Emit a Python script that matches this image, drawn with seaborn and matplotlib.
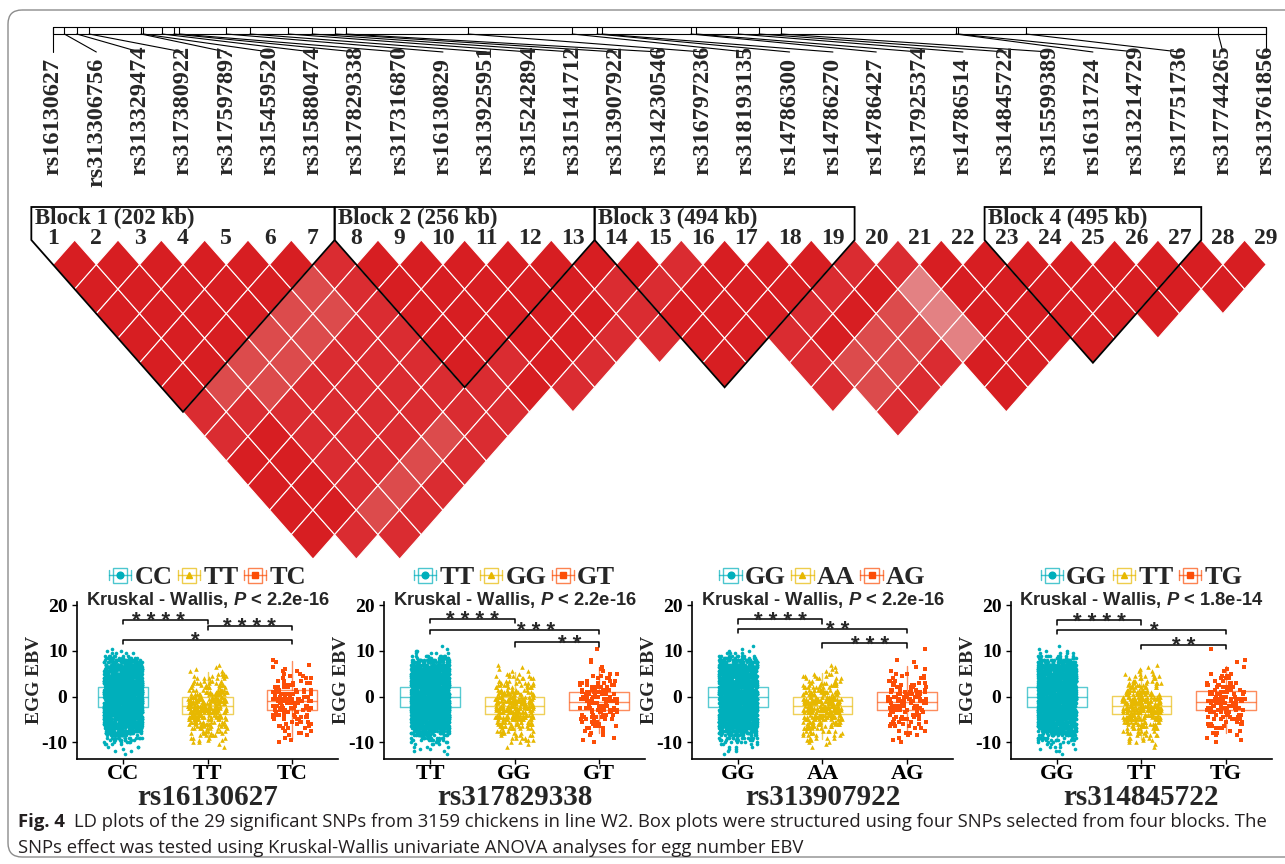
import numpy as np
import pandas as pd
import matplotlib
matplotlib.use("Agg")
import matplotlib.pyplot as plt
import seaborn as sns
from matplotlib.collections import PolyCollection
from matplotlib.patches import Polygon, Rectangle, FancyBboxPatch
from matplotlib.lines import Line2D
from matplotlib.legend_handler import HandlerBase

# ---------------- LD plot data ----------------
snp_ids = ["rs16130627", "rs313306756", "rs313329474", "rs317380922", "rs317597897",
           "rs315459520", "rs315880474", "rs317829338", "rs317316870", "rs16130829",
           "rs313925951", "rs315242894", "rs315141712", "rs313907922", "rs314230546",
           "rs316797236", "rs318193135", "rs14786300", "rs14786270", "rs14786427",
           "rs317925374", "rs14786514", "rs314845722", "rs315599389", "rs16131724",
           "rs313214729", "rs317751736", "rs317744265", "rs313761856"]
# physical position of each SNP (kb from the first one)
snp_pos_kb = [0, 21, 44, 67, 163, 167, 202, 224, 234, 321, 365, 436, 480, 523, 543,
              769, 962, 1008, 1017, 1182, 1192, 1269, 1308, 1349, 1673, 1677, 1803, 2159, 2248]

# one string per SNP i: LD class of the pairs (i, i+1), (i, i+2), ... shown in the plot
ld_rows = [
    "000000110000",
    "000002100001",
    "000022111121",
    "00022111121",
    "0022111121",
    "022111121",
    "11111111",
    "0000011",
    "000010",
    "000001",
    "00001",
    "0001",
    "0111",
    "01000",
    "1000",
    "000111",
    "0010221",
    "010221",
    "10221",
    "133300",
    "00000",
    "0000",
    "0000",
    "000",
    "000",
    "00",
    "00",
    "0",
]
ld_colors = {"0": "#D71E22", "1": "#DA2C31", "2": "#DC4B4C", "3": "#E38183"}
blocks = [(1, 7, "Block 1 (202 kb)"), (8, 13, "Block 2 (256 kb)"),
          (14, 19, "Block 3 (494 kb)"), (23, 27, "Block 4 (495 kb)")]

# ---------------- box plot data ----------------
panel_snps = ["rs16130627", "rs317829338", "rs313907922", "rs314845722"]
panel_genos = [["CC", "TT", "TC"], ["TT", "GG", "GT"], ["GG", "AA", "AG"], ["GG", "TT", "TG"]]
panel_pvals = ["2.2e-16", "2.2e-16", "2.2e-16", "1.8e-14"]
box_q1 = [[-2.3, -3.8, -3.0], [-2.4, -3.8, -2.9], [-2.4, -3.8, -2.9], [-2.4, -3.8, -2.9]]
box_med = [[-0.1, -2.0, -0.9], [-0.15, -2.0, -1.1], [-0.2, -2.1, -1.1], [-0.2, -2.1, -1.1]]
box_q3 = [[2.2, -0.1, 1.4], [2.0, -0.15, 0.95], [2.0, -0.2, 1.0], [2.0, 0.2, 1.2]]
whis_lo = [[-9.0, -9.2, -9.4], [-9.0, -9.3, -8.0], [-9.0, -9.3, -8.0], [-9.0, -9.3, -8.0]]
whis_hi = [[8.9, 5.4, 7.8], [8.6, 5.3, 6.5], [8.6, 5.2, 6.6], [8.6, 6.0, 6.8]]

ebv_levels = [-12.5, -12.0, -11.5, -11.0, -10.5, -10.0, -9.5, -9.0, -8.5, -8.0,
              -7.5, -7.0, -6.5, -6.0, -5.5, -5.0, -4.5, -4.0, -3.5, -3.0,
              -2.5, -2.0, -1.5, -1.0, -0.5, 0.0, 0.5, 1.0, 1.5, 2.0,
              2.5, 3.0, 3.5, 4.0, 4.5, 5.0, 5.5, 6.0, 6.5, 7.0,
              7.5, 8.0, 8.5, 9.0, 9.5, 10.0, 10.5, 11.0]
major_p1 = [1, 2, 1, 3, 4, 6, 9, 12, 18, 27, 36, 45, 52, 58, 62, 65, 68, 70, 70, 70,
            70, 70, 70, 70, 70, 70, 70, 70, 70, 70, 69, 68, 66, 64, 62, 58, 55, 52, 46, 40,
            30, 21, 13, 7, 4, 2, 1, 0]
major_p234 = [1, 2, 2, 3, 4, 6, 9, 12, 18, 27, 36, 45, 52, 58, 62, 65, 68, 70, 70, 70,
              70, 70, 70, 70, 70, 70, 70, 70, 70, 70, 69, 68, 66, 64, 62, 58, 55, 52, 46, 40,
              30, 21, 13, 9, 4, 2, 1, 1]
homo_minor = [0, 0, 0, 1, 1, 2, 3, 4, 5, 5, 6, 8, 9, 10, 12, 14, 16, 17, 18, 19,
              19, 19, 18, 17, 16, 14, 13, 11, 9, 8, 7, 6, 5, 5, 4, 3, 2, 1, 1, 1,
              0, 0, 0, 0, 0, 0, 0, 0]
hetero_p1 = [0, 0, 0, 0, 0, 1, 1, 1, 2, 2, 2, 3, 3, 4, 4, 5, 5, 6, 6, 7,
             7, 8, 8, 8, 8, 7, 7, 6, 6, 5, 4, 4, 3, 3, 2, 2, 2, 1, 1, 1,
             1, 1, 0, 0, 0, 0, 0, 0]
hetero_p234 = [0, 0, 0, 0, 0, 1, 1, 1, 2, 2, 2, 3, 3, 4, 4, 5, 5, 6, 6, 7,
               7, 8, 8, 8, 8, 7, 7, 6, 6, 5, 4, 4, 3, 3, 2, 2, 1, 1, 1, 0,
               1, 1, 0, 0, 0, 0, 1, 0]
point_counts = [[major_p1, homo_minor, hetero_p1],
                [major_p234, homo_minor, hetero_p234],
                [major_p234, homo_minor, hetero_p234],
                [major_p234, homo_minor, hetero_p234]]
# (group a, group b, bracket height, label, label shift along x)
brackets = [
    [(0, 1, 16.8, "* * * *", -0.08), (1, 2, 15.5, "* * * *", 0.0), (0, 2, 12.5, "*", -0.15)],
    [(0, 1, 17.1, "* * * *", 0.0), (0, 2, 14.7, "* * *", 0.25), (1, 2, 11.9, "* *", 0.15)],
    [(0, 1, 17.0, "* * * *", 0.0), (0, 2, 14.9, "* *", 0.18), (1, 2, 11.7, "* * *", 0.06)],
    [(0, 1, 16.7, "* * * *", 0.0), (0, 2, 14.7, "*", 0.15), (1, 2, 11.4, "* *", 0.0)],
]

caption_1 = ("LD plots of the 29 significant SNPs from 3159 chickens in line W2. Box plots were "
             "structured using four SNPs selected from four blocks. The")
caption_2 = "SNPs effect was tested using Kruskal-Wallis univariate ANOVA analyses for egg number EBV"

# ---------------- style ----------------
sns.set_theme(style="ticks")
plt.rcParams["font.family"] = ["Liberation Serif", "DejaVu Serif"]
plt.rcParams["font.weight"] = "bold"
plt.rcParams["mathtext.fontset"] = "custom"
plt.rcParams["mathtext.it"] = "Liberation Sans:italic:bold"
plt.rcParams["mathtext.rm"] = "Liberation Sans:bold"

W, H = 1285, 864
fig = plt.figure(figsize=(W / 100, H / 100), dpi=100)

# frame + caption axes in pixel units
frame_ax = fig.add_axes([0, 0, 1, 1])
frame_ax.set_xlim(0, W)
frame_ax.set_ylim(H, 0)
frame_ax.axis("off")
frame_ax.add_patch(FancyBboxPatch((8, 10), 1320, 847, boxstyle="round,pad=0,rounding_size=14",
                                  fill=False, ec="#8c8c8c", lw=1.0))

# ---------------- LD plot ----------------
X0, DX = 53.0, 43.33   # px of SNP 1, px per SNP
Y0, DY = 240.0, 24.55  # px of the top row, px per row
n = len(snp_ids)
ld_ax = fig.add_axes([0, 0, 1, 1])
ld_ax.set_xlim(1 - X0 / DX, 1 + (W - X0) / DX)
ld_ax.set_ylim((H - Y0) / DY, -Y0 / DY)
ld_ax.axis("off")
ld_ax.patch.set_alpha(0)


def row(y_px):
    return (y_px - Y0) / DY


verts, fcs = [], []
for i, codes in enumerate(ld_rows, start=1):
    for k, code in enumerate(codes):
        j = i + 1 + k
        cx, cy = (i + j) / 2, j - i
        verts.append([(cx, cy - 1), (cx + 0.5, cy), (cx, cy + 1), (cx - 0.5, cy)])
        fcs.append(ld_colors[code])
ld_ax.add_collection(PolyCollection(verts, facecolors=fcs, edgecolors="white",
                                    linewidths=0.8, zorder=2))

for s, e, name in blocks:
    top = row(207)
    outline = [(s - 0.5, top), (e + 0.5, top), (e + 0.5, 0), ((s + e) / 2, e - s + 1), (s - 0.5, 0)]
    ld_ax.add_patch(Polygon(outline, closed=True, fill=False, ec="black", lw=1.3, zorder=3))
    ld_ax.text(s - 0.42, row(218), name, ha="left", va="center", fontsize=16.5, zorder=4)

for k in range(1, n + 1):
    ld_ax.text(k, row(239), str(k), ha="center", va="center", fontsize=17, zorder=4)

# physical map and SNP names
span = snp_pos_kb[-1] - snp_pos_kb[0]
tick_x = [1 + (n - 1) * (p - snp_pos_kb[0]) / span for p in snp_pos_kb]
ld_ax.plot([1, n, n, 1, 1], [row(27), row(27), row(34), row(34), row(27)], color="black", lw=0.8)
for k, tx in enumerate(tick_x, start=1):
    ld_ax.plot([tx, tx], [row(27), row(34)], color="black", lw=0.8)
    ld_ax.plot([tx, k], [row(34), row(52)], color="black", lw=0.8)
    base = 187 if k == 2 else 175
    ld_ax.text(k, row(base), snp_ids[k - 1], rotation=90, ha="center", va="bottom", fontsize=17.5)

# ---------------- box plots ----------------
geno_colors = ["#00AFBB", "#E7B800", "#FC4E07"]
geno_markers = ["o", "^", "s"]
geno_sizes = [2.6, 3.3, 2.8]
panel_centers_px = [123, 430, 738, 1057]
box_widths = [0.6, 0.7, 0.7, 0.7]
CAT_PX = 84.5
AX_TOP, AX_BOT = 601.7, 759.0
AX_H = AX_BOT - AX_TOP


class BoxKey:
    def __init__(self, color, marker):
        self.color = color
        self.marker = marker


class BoxKeyHandler(HandlerBase):
    def create_artists(self, legend, h, xd, yd, w, hh, fs, trans):
        x0, y0 = -xd, -yd
        kw = dict(color=h.color, lw=1.0, alpha=0.7, transform=trans)
        return [
            Rectangle((x0 + 0.18 * w, y0), 0.64 * w, hh, fill=False, ec=h.color, lw=1.0,
                      alpha=0.7, transform=trans),
            Line2D([x0, x0 + w], [y0 + hh / 2] * 2, **kw),
            Line2D([x0, x0], [y0 + 0.15 * hh, y0 + 0.85 * hh], **kw),
            Line2D([x0 + w, x0 + w], [y0 + 0.15 * hh, y0 + 0.85 * hh], **kw),
            Line2D([x0 + w / 2], [y0 + hh / 2], marker=h.marker, color=h.color, ms=4.8,
                   ls="none", transform=trans),
        ]


np.random.seed(3)
for p in range(4):
    left = panel_centers_px[p] - 0.55 * CAT_PX
    ax = fig.add_axes([left / W, 1 - AX_BOT / H, 3.1 * CAT_PX / W, AX_H / H])
    ax.patch.set_alpha(0)
    genos = panel_genos[p]
    for g in range(3):
        stats = [dict(med=box_med[p][g], q1=box_q1[p][g], q3=box_q3[p][g],
                      whislo=whis_lo[p][g], whishi=whis_hi[p][g])]
        lp = dict(color=geno_colors[g], alpha=0.65, lw=1.0, zorder=1)
        ax.bxp(stats, positions=[g], widths=box_widths[p], showfliers=False, showcaps=False,
               boxprops=lp, whiskerprops=lp, medianprops=lp, manage_ticks=False)
        df = pd.DataFrame({"genotype": genos[g],
                           "ebv": np.repeat(ebv_levels, point_counts[p][g])})
        sns.stripplot(data=df, x="genotype", y="ebv", order=genos, ax=ax,
                      color=geno_colors[g], marker=geno_markers[g], size=geno_sizes[g],
                      jitter=0.23, linewidth=0, zorder=3)

    for a, b, yb, lab, shift in brackets[p]:
        ax.plot([a, a, b, b], [yb - 1.0, yb, yb, yb - 1.0], color="black", lw=1.1, zorder=4)
        ax.text((a + b) / 2 + shift, yb - 1.65, lab, ha="center", va="baseline", fontsize=16,
                family="Liberation Sans", fontweight="bold", zorder=5)

    ax.set_xlim(-0.55, 2.55)
    ax.set_ylim(-13.7, 20.8)
    ax.set_xticks([0, 1, 2], genos, fontsize=16, fontweight="bold")
    ax.set_yticks([-10, 0, 10, 20], ["-10", "0", "10", "20"], fontsize=14, fontweight="bold")
    ax.tick_params(axis="both", direction="out", length=3.5, width=1.0, colors="black")
    ax.tick_params(axis="x", pad=0)
    ax.tick_params(axis="y", pad=3)
    ax.set_xlabel(panel_snps[p], fontsize=21, fontweight="bold", labelpad=0)
    ax.set_ylabel("EGG EBV", fontsize=14, fontweight="bold", labelpad=-1)
    sns.despine(ax=ax)
    for sp in ["left", "bottom"]:
        ax.spines[sp].set_linewidth(1.2)
        ax.spines[sp].set_color("black")

    ax.text(0.5, (AX_BOT - 600) / AX_H, f"Kruskal - Wallis, $P$ < {panel_pvals[p]}",
            transform=ax.transAxes, ha="center", va="center", family="Liberation Sans",
            fontweight="bold", fontsize=13.2)
    handles = [BoxKey(geno_colors[g], geno_markers[g]) for g in range(3)]
    ax.legend(handles, genos, handler_map={BoxKey: BoxKeyHandler()}, loc="center",
              bbox_to_anchor=(0.5, (AX_BOT - 578) / AX_H), ncol=3, frameon=False,
              prop=dict(family="Liberation Serif", weight="bold", size=19),
              handlelength=0.85, handleheight=0.5, handletextpad=0.12, columnspacing=0.2,
              borderpad=0, borderaxespad=0)

# ---------------- caption ----------------
cap = dict(family=["Open Sans", "DejaVu Sans"], fontsize=13.3, color="#231f20", va="center")
t = frame_ax.text(18, 822, "Fig. 4", fontweight="bold", **cap)
fig.canvas.draw()
bb = t.get_window_extent(renderer=fig.canvas.get_renderer())
frame_ax.text(18 + bb.width + 9, 822, caption_1, fontweight="normal", **cap)
frame_ax.text(18, 848, caption_2, fontweight="normal", **cap)

fig.savefig("out.png", dpi=100)
